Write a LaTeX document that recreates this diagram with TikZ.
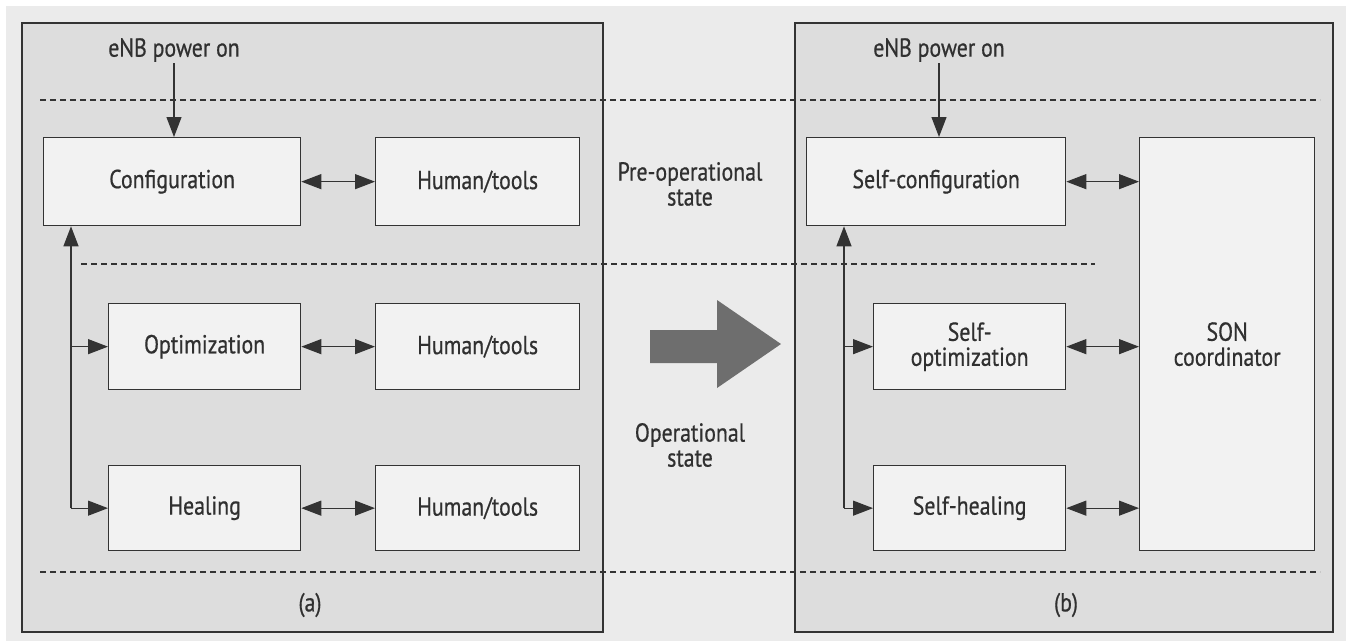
\documentclass[tikz,border=0pt]{standalone}
\usepackage{fontspec}
\setmainfont{PT Sans}[FakeStretch=0.84, FakeBold=0.6]
\usetikzlibrary{arrows.meta}
\definecolor{outerbg}{HTML}{EBEBEB}
\definecolor{panelbg}{HTML}{DDDDDD}
\definecolor{boxbg}{HTML}{F2F2F2}
\definecolor{linec}{HTML}{333333}
\definecolor{textc}{HTML}{303030}
\definecolor{bigarrow}{HTML}{6E6E6E}
\tikzset{
  box/.style={draw=linec, fill=boxbg, line width=1.3pt, inner sep=0pt, anchor=north west, align=center, text=textc},
  panel/.style={draw=linec, fill=panelbg, line width=1.3pt},
  lbl/.style={inner sep=1pt, align=center, text=textc},
  arr/.style={draw=linec, line width=1.2pt, -{Triangle[length=20pt,width=15pt]}},
  darr/.style={draw=linec, line width=1.2pt, {Triangle[length=20pt,width=15pt]}-{Triangle[length=20pt,width=15pt]}},
  dline/.style={draw=linec, line width=1.3pt, dash pattern=on 6pt off 4pt},
}
\begin{document}
\begin{tikzpicture}[x=1pt, y=-1pt, font=\fontsize{26}{25}\selectfont]
\useasboundingbox (0,0) rectangle (1346,641);
\fill[white] (0,0) rectangle (1346,641);
\fill[outerbg] (6,6) rectangle (1346,641);
% panels
\draw[panel] (22,23) rectangle (603,632);
\draw[panel] (795,23) rectangle (1333,632);
% dashed lines
\draw[dline] (40,100) -- (1320,100);
\draw[dline] (81,264) -- (1095,264);
\draw[dline] (40,572) -- (1320,572);
% big arrow
\fill[bigarrow] (650,330) -- (717,330) -- (717,300) -- (781,344) -- (717,388) -- (717,363) -- (650,363) -- cycle;
% left panel
\node[lbl] (enbA) at (174,50) {eNB power on};
\node[box, minimum width=257pt, minimum height=88pt] (conf) at (43,137) {Configuration};
\node[box, minimum width=204pt, minimum height=88pt] (ht1) at (375,137) {Human/tools};
\node[box, minimum width=192pt, minimum height=86pt] (opt) at (108,303) {Optimization};
\node[box, minimum width=204pt, minimum height=86pt] (ht2) at (375,303) {Human/tools};
\node[box, minimum width=192pt, minimum height=85pt] (heal) at (108,465) {Healing};
\node[box, minimum width=204pt, minimum height=85pt] (ht3) at (375,465) {Human/tools};
\node[lbl] (capa) at (310,605) {(a)};
\coordinate (va) at (71,300);
\draw[arr] (enbA.south) -- (enbA.south |- conf.north);
\draw[arr] (heal.west -| va) -- (conf.south -| va);
\draw[arr] (opt.west -| va) -- (opt.west);
\draw[arr] (heal.west -| va) -- (heal.west);
\draw[darr] (conf.east) -- (ht1.west);
\draw[darr] (opt.east) -- (ht2.west);
\draw[darr] (heal.east) -- (ht3.west);
% middle labels
\node[lbl] (pre) at (690,184) {Pre-operational\\state};
\node[lbl] (op) at (690,445) {Operational\\state};
% right panel
\node[lbl] (enbB) at (939,50) {eNB power on};
\node[box, minimum width=259pt, minimum height=88pt] (sconf) at (806,137) {Self-configuration};
\node[box, minimum width=192pt, minimum height=86pt] (sopt) at (873,303) {Self-\\optimization};
\node[box, minimum width=192pt, minimum height=85pt] (sheal) at (873,465) {Self-healing};
\node[box, minimum width=175pt, minimum height=413pt] (son) at (1139,137) {SON\\coordinator};
\node[lbl] (capb) at (1066,605) {(b)};
\coordinate (vb) at (844,300);
\draw[arr] (enbB.south) -- (enbB.south |- sconf.north);
\draw[arr] (sheal.west -| vb) -- (sconf.south -| vb);
\draw[arr] (sopt.west -| vb) -- (sopt.west);
\draw[arr] (sheal.west -| vb) -- (sheal.west);
\draw[darr] (sconf.east) -- (sconf.east -| son.west);
\draw[darr] (sopt.east) -- (sopt.east -| son.west);
\draw[darr] (sheal.east) -- (sheal.east -| son.west);
\end{tikzpicture}
\end{document}
